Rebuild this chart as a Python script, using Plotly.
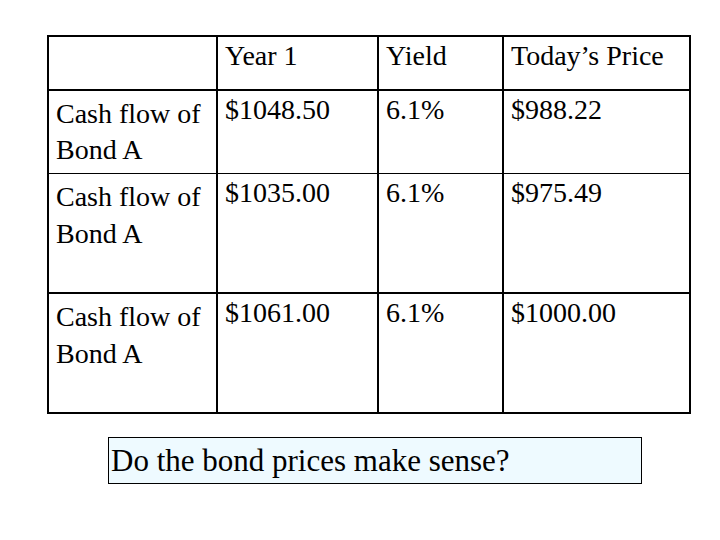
import plotly.graph_objects as go

header = ["", "Year 1", "Yield", "Today’s Price"]
row_labels = ["Cash flow of<br>Bond A", "Cash flow of<br>Bond A<br> ", "Cash flow of<br>Bond A<br> "]
year1 = ["$1048.50", "$1035.00", "$1061.00"]
yields = ["6.1%", "6.1%", "6.1%"]
prices = ["$988.22", "$975.49", "$1000.00"]
question = "Do the bond prices make sense?"

font = dict(family="Liberation Serif, Times New Roman, serif", size=28, color="black")

fig = go.Figure(go.Table(
    columnwidth=[169, 161, 125, 187],
    header=dict(values=header, align="left", font=font, height=54,
                fill_color="white", line=dict(color="black", width=1.5)),
    cells=dict(values=[row_labels, year1, yields, prices], align="left", font=font,
               height=40, fill_color="white", line=dict(color="black", width=1.5)),
    domain=dict(x=[40/720, 682/720], y=[0.2, 1-28/540]),
))
fig.add_annotation(text=question, x=100/720, y=1-429/540, xref="paper", yref="paper",
                   xanchor="left", yanchor="top", showarrow=False, align="left",
                   font=dict(family="Liberation Serif, Times New Roman, serif", size=31, color="black"),
                   bgcolor="#eefaff", bordercolor="black", borderwidth=1,
                   width=528, height=41, borderpad=2)
fig.update_layout(width=720, height=540, margin=dict(l=0, r=0, t=0, b=0),
                  paper_bgcolor="white", plot_bgcolor="white")
fig.write_html("out.html")
